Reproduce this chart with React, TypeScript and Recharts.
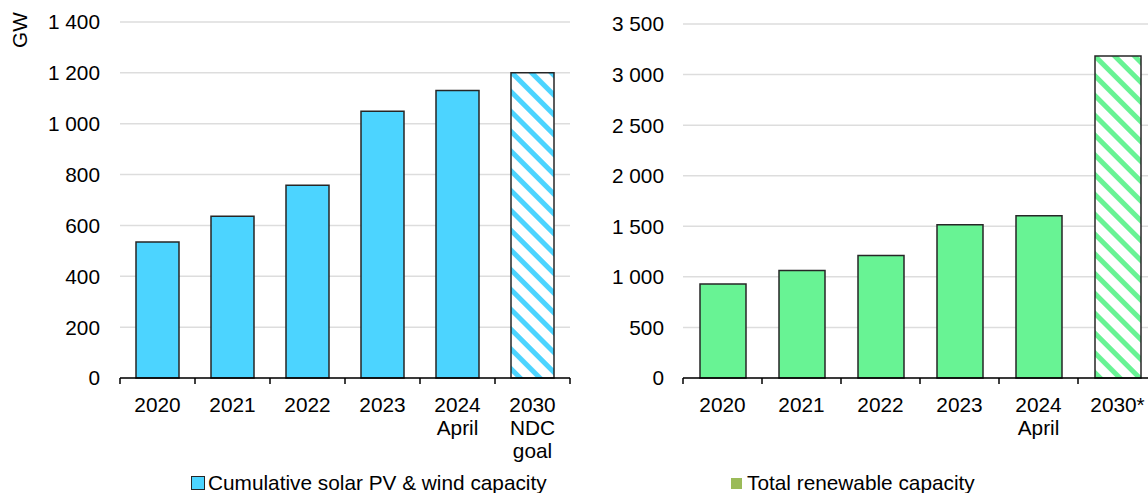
import { BarChart, Bar, XAxis, YAxis, CartesianGrid, Cell } from "recharts";

const leftCategories = ["2020", "2021", "2022", "2023", "2024\nApril", "2030\nNDC\ngoal"];
const solarWindGW = [535, 636, 758, 1049, 1131, 1200];
const leftProjected = [false, false, false, false, false, true];
const leftTicks = [0, 200, 400, 600, 800, 1000, 1200, 1400];

const rightCategories = ["2020", "2021", "2022", "2023", "2024\nApril", "2030*"];
const renewableGW = [929, 1063, 1211, 1514, 1604, 3184];
const rightProjected = [false, false, false, false, false, true];
const rightTicks = [0, 500, 1000, 1500, 2000, 2500, 3000, 3500];

const FONT = '"Liberation Sans", Arial, sans-serif';
const FS = 20.8;
const BLUE = "#4CD4FF";
const GREEN = "#68F394";

const leftData = leftCategories.map((name, i) => ({
  name,
  value: solarWindGW[i],
  projected: leftProjected[i],
}));
const rightData = rightCategories.map((name, i) => ({
  name,
  value: renewableGW[i],
  projected: rightProjected[i],
}));

const fmt = (v: number) => String(v).replace(/\B(?=(\d{3})+(?!\d))/g, " ");

const CatTick = (props: any) => {
  const { x, y, payload, index, band, count } = props;
  const lines = String(payload.value).split("\n");
  const left = x - band / 2;
  const right = x + band / 2;
  return (
    <g>
      <line x1={left} x2={left} y1={y} y2={y + 6} stroke="#000" strokeWidth={1.5} />
      {index === count - 1 && (
        <line x1={right} x2={right} y1={y} y2={y + 6} stroke="#000" strokeWidth={1.5} />
      )}
      <text x={x} y={y + 34} textAnchor="middle" fontSize={FS} fill="#000" fontFamily={FONT}>
        {lines.map((l, i) => (
          <tspan key={i} x={x} dy={i === 0 ? 0 : 23}>
            {l}
          </tspan>
        ))}
      </text>
    </g>
  );
};

const Panel = ({
  data,
  ticks,
  max,
  color,
  hatch,
  yWidth,
  top,
  right,
  band,
  barSize,
}: any) => (
  <BarChart
    width={580}
    height={493}
    data={data}
    margin={{ top, right, left: 0, bottom: 55 }}
  >
    <CartesianGrid horizontal vertical={false} stroke="#DDDDDD" strokeWidth={1.5} />
    <XAxis
      dataKey="name"
      interval={0}
      height={60}
      tickSize={0}
      tickMargin={0}
      tickLine={false}
      axisLine={{ stroke: "#000", strokeWidth: 1.5 }}
      tick={(p: any) => <CatTick {...p} band={band} count={data.length} />}
    />
    <YAxis
      domain={[0, max]}
      ticks={ticks}
      interval={0}
      width={yWidth}
      axisLine={false}
      tickLine={false}
      tickSize={6}
      tickMargin={yWidth === 120 ? 14 : 13}
      tick={{ fontSize: FS, fill: "#000", fontFamily: FONT }}
      tickFormatter={fmt}
    />
    <Bar
      dataKey="value"
      barSize={barSize}
      stroke="#262626"
      strokeWidth={1.5}
      isAnimationActive={false}
    >
      {data.map((d: any, i: number) => (
        <Cell key={i} fill={d.projected ? `url(#${hatch})` : color} />
      ))}
    </Bar>
  </BarChart>
);

export default function App() {
  return (
    <div
      style={{
        position: "absolute",
        left: 0,
        top: 0,
        width: 1148,
        height: 493,
        overflow: "hidden",
        background: "#fff",
        fontFamily: FONT,
      }}
    >
      <svg width={0} height={0} style={{ position: "absolute" }}>
        <defs>
          <pattern id="hatchBlue" patternUnits="userSpaceOnUse" width={14} height={14} patternTransform="rotate(-45)">
            <rect x={0} y={0} width={14} height={14} fill="#fff" />
            <rect x={0} y={0} width={5} height={14} fill={BLUE} />
          </pattern>
          <pattern id="hatchGreen" patternUnits="userSpaceOnUse" width={14} height={14} patternTransform="rotate(-45)">
            <rect x={0} y={0} width={14} height={14} fill="#fff" />
            <rect x={0} y={0} width={5} height={14} fill={GREEN} />
          </pattern>
        </defs>
      </svg>

      <div style={{ position: "absolute", left: 0, top: 0 }}>
        <Panel
          data={leftData}
          ticks={leftTicks}
          max={1400}
          color={BLUE}
          hatch="hatchBlue"
          yWidth={120}
          top={22}
          right={10}
          band={75}
          barSize={43}
        />
      </div>
      <div style={{ position: "absolute", left: 580, top: 0 }}>
        <Panel
          data={rightData}
          ticks={rightTicks}
          max={3500}
          color={GREEN}
          hatch="hatchGreen"
          yWidth={103}
          top={24}
          right={3}
          band={79}
          barSize={46}
        />
      </div>

      <div
        style={{
          position: "absolute",
          left: 6,
          top: 34,
          fontSize: FS,
          transform: "translate(0, -50%) rotate(-90deg)",
          transformOrigin: "center",
          whiteSpace: "nowrap",
          color: "#000",
          width: 28,
          textAlign: "center",
          lineHeight: "28px",
        }}
      >
        GW
      </div>

      <div style={{ position: "absolute", left: 191, top: 471, display: "flex", alignItems: "center", fontSize: FS, lineHeight: "24px", whiteSpace: "nowrap" }}>
        <span style={{ display: "inline-block", width: 12, height: 12, background: BLUE, border: "1px solid #262626", marginRight: 3 }} />
        Cumulative solar PV &amp; wind capacity
      </div>
      <div style={{ position: "absolute", left: 731, top: 471, display: "flex", alignItems: "center", fontSize: FS, lineHeight: "24px", whiteSpace: "nowrap" }}>
        <span style={{ display: "inline-block", width: 11, height: 11, background: "#9BBB59", marginRight: 5 }} />
        Total renewable capacity
      </div>
    </div>
  );
}
